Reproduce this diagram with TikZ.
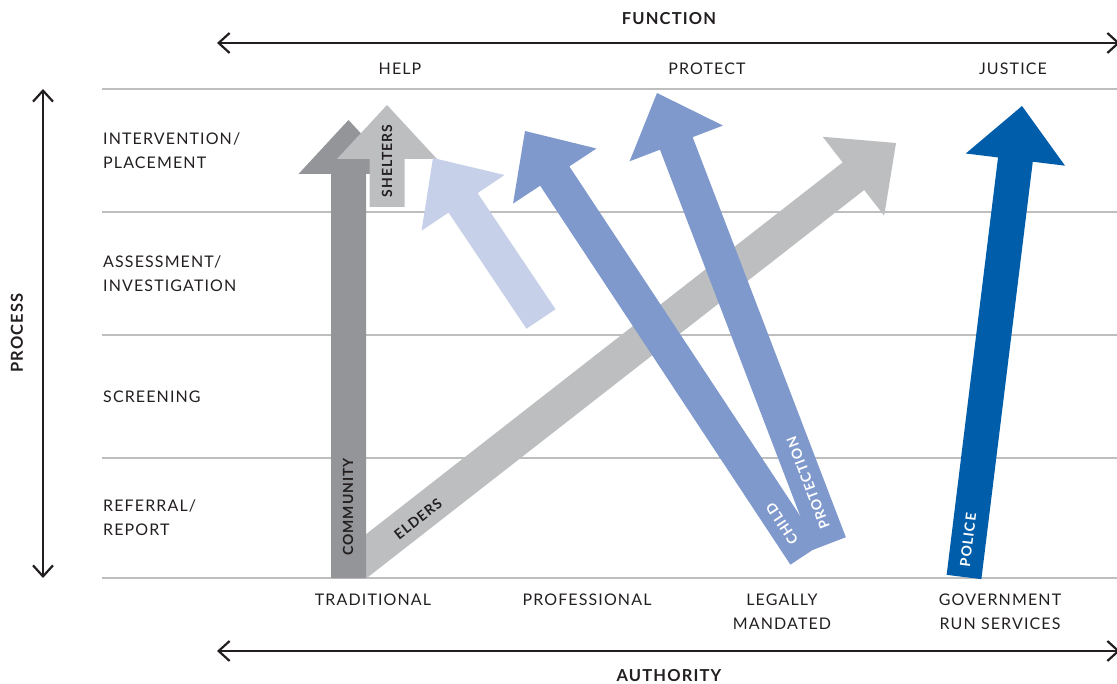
\documentclass[tikz,border=0pt]{standalone}
\usepackage{fontspec}
\setmainfont{Lato}
\newfontfamily\labfont{Lato}[LetterSpace=7]
\usetikzlibrary{calc,arrows.meta}
\definecolor{txt}{RGB}{35,31,32}
\definecolor{gridc}{RGB}{190,190,190}
\definecolor{darkgray}{RGB}{147,149,152}
\definecolor{lightgray}{RGB}{188,190,192}
\definecolor{paleblue}{RGB}{198,208,232}
\definecolor{midblue}{RGB}{127,153,204}
\definecolor{policeblue}{RGB}{0,93,170}
% #1 colour, #2 base, #3 tip
\newcommand{\fatarrow}[3]{%
  \coordinate (hb) at ($(#3)!54pt!(#2)$);
  \fill[#1] ($(#2)!17.5pt!90:(#3)$) -- ($(hb)!17.5pt!90:(#3)$) -- ($(hb)!50pt!90:(#3)$)
    -- (#3) -- ($(hb)!50pt!-90:(#3)$) -- ($(hb)!17.5pt!-90:(#3)$) -- ($(#2)!17.5pt!-90:(#3)$) -- cycle;
}
\tikzset{
  axislab/.style={font=\labfont\fontsize{16}{24}\selectfont, text=txt, inner sep=0pt},
  rowlab/.style={axislab, anchor=west, align=left},
  collab/.style={axislab, align=center},
  titlelab/.style={font=\labfont\bfseries\fontsize{16.5}{18}\selectfont, text=txt, inner sep=0pt},
  arrlab/.style={font=\labfont\bfseries\fontsize{14}{16}\selectfont, inner sep=0pt},
  gridline/.style={draw=gridc, line width=1.6pt},
  axisarrow/.style={draw=txt, line width=2.2pt,
    {Straight Barb[length=11pt,width=20pt]}-{Straight Barb[length=11pt,width=20pt]}},
}
\begin{document}
\begin{tikzpicture}[x=1pt,y=-1pt]
\useasboundingbox (0,0) rectangle (1117,684);
% grid
\foreach \yy/\nm in {89/ga,212/gb,335/gc,458/gd,578/ge}{
  \coordinate (\nm l) at (102,\yy);
  \coordinate (\nm r) at (1117,\yy);
  \draw[gridline] (\nm l) -- (\nm r);
}
% axes
\coordinate (fl) at (217,43); \coordinate (fr) at (1120,43);
\draw[axisarrow] (fl) -- (fr);
\coordinate (al) at (217,651); \coordinate (ar) at (1120,651);
\draw[axisarrow] (al) -- (ar);
\coordinate (pt) at (43,89); \coordinate (pb) at (43,578);
\draw[axisarrow] (pt) -- (pb);
% titles
\node[titlelab] (function) at (669,19) {FUNCTION};
\node[titlelab] (authority) at (669,676) {AUTHORITY};
\node[titlelab, rotate=90] (process) at (17,333) {PROCESS};
% function labels
\node[axislab] (help) at (400,69) {HELP};
\node[axislab] (protect) at (707,69) {PROTECT};
\node[axislab] (justice) at (1013,69) {JUSTICE};
% process labels
\node[rowlab] (interv) at (103,151) {INTERVENTION/\\PLACEMENT};
\node[rowlab] (assess) at (103,274) {ASSESSMENT/\\INVESTIGATION};
\node[rowlab] (screen) at (103,397) {SCREENING};
\node[rowlab] (refer) at (103,518) {REFERRAL/\\REPORT};
% authority labels
\node[collab] (trad) at (373,600) {TRADITIONAL};
\node[collab] (prof) at (587,600) {PROFESSIONAL};
\node[collab] (legal) at (782,612) {LEGALLY\\MANDATED};
\node[collab] (gov) at (1000,612) {GOVERNMENT\\RUN SERVICES};
% arrow end points
\coordinate (lbB) at (541,319);   \coordinate (lbT) at (433,158);
\coordinate (elB) at (342.3,574.9); \coordinate (elT) at (896,143);
\coordinate (coB) at (348.5,578); \coordinate (coT) at (348.5,120);
\coordinate (shB) at (387,207);   \coordinate (shT) at (387,105);
\coordinate (chB) at (805,555);   \coordinate (chT) at (525,131);
\coordinate (prB) at (829.5,543.5); \coordinate (prT) at (657,93);
\coordinate (poB) at (964,577);   \coordinate (poT) at (1022,106);
% arrows
\begin{scope}
  \clip (0,0) rectangle (1117,578);
  \fatarrow{lightgray}{elB}{elT}
\end{scope}
\fatarrow{darkgray}{coB}{coT}
\fatarrow{lightgray}{shB}{shT}
\fatarrow{paleblue}{lbB}{lbT}
\fatarrow{midblue}{chB}{chT}
\fatarrow{midblue}{prB}{prT}
\fatarrow{policeblue}{poB}{poT}
% arrow labels
\node[arrlab, text=txt, rotate=90] (shelters) at (387,161) {SHELTERS};
\node[arrlab, text=txt, rotate=90] (community) at (348,507) {COMMUNITY};
\node[arrlab, text=txt, rotate=37.9] (elders) at (418,519) {ELDERS};
\node[arrlab, text=white, rotate=123.4] (child) at (782,524) {CHILD};
\node[arrlab, text=white, rotate=110.8] (protection) at (808,483) {PROTECTION};
\node[arrlab, text=white, rotate=83] (police) at (968,540) {POLICE};
\end{tikzpicture}
\end{document}
